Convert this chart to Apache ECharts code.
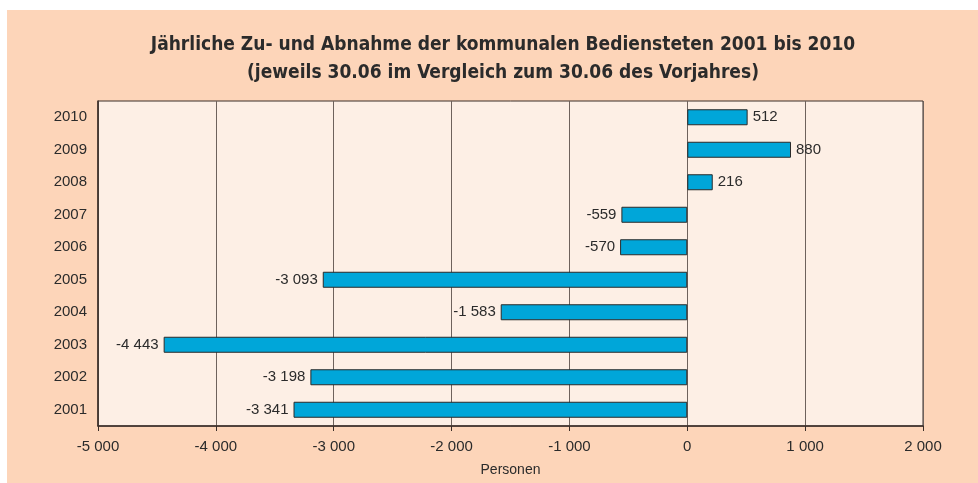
<!DOCTYPE html>
<html>
<head>
<meta charset="utf-8">
<script src="https://cdn.jsdelivr.net/npm/echarts@6/dist/echarts.min.js"></script>
<style>
	html, body { margin: 0; padding: 0; background: #ffffff; }
	#frame { position: absolute; left: 7px; top: 10px; width: 971px; height: 473px; background: #fdd5b9; }
	#chart { position: absolute; left: 0; top: 0; width: 978px; height: 483px; }
</style>
</head>
<body>
<div id="frame"></div>
<div id="chart"></div>
<script>
//	data
var years = ['2001', '2002', '2003', '2004', '2005', '2006', '2007', '2008', '2009', '2010'];
var change = [-3341, -3198, -4443, -1583, -3093, -570, -559, 216, 880, 512];
var xMin = -5000,
	xMax = 2000,
	xStep = 1000;

//	thousands with a space, as in the original
function fmt(v) {
	var s = Math.abs(v).toString().replace(/\B(?=(\d{3})+(?!\d))/g, ' ');
	return (v < 0 ? '-' : '') + s;
}

var barData = [];
for(var i=0; i<change.length; i++) {
	barData.push({
		value: change[i],
		label: { position: change[i] < 0 ? 'left' : 'right' }
	});
}

var myChart = echarts.init(document.getElementById('chart'));
var option = {
	backgroundColor: 'transparent',
	title: {
		text: 'Jährliche Zu- und Abnahme der kommunalen Bediensteten 2001 bis 2010\n(jeweils 30.06 im Vergleich zum 30.06 des Vorjahres)',
		left: 503,
		textAlign: 'center',
		top: 31,
		padding: 0,
		textStyle: {
			fontFamily: 'DejaVu Sans Condensed',
			fontWeight: 'bold',
			fontSize: 19,
			lineHeight: 28,
			color: '#2b2b2b'
		}
	},
	grid: {
		left: 98,
		right: 55,
		top: 101,
		bottom: 57,
		show: true,
		backgroundColor: '#fdefe5',
		borderColor: '#3a2e28',
		borderWidth: 1
	},
	xAxis: {
		type: 'value',
		min: xMin,
		max: xMax,
		interval: xStep,
		name: 'Personen',
		nameLocation: 'middle',
		nameGap: 37,
		nameTextStyle: { fontFamily: 'Liberation Sans', fontSize: 14, color: '#2b2b2b' },
		axisLine: { show: true, onZero: false, lineStyle: { color: '#3a2e28', width: 1.5 } },
		axisTick: { show: true, length: 5, lineStyle: { color: '#3a2e28' } },
		axisLabel: {
			fontFamily: 'Liberation Sans',
			fontSize: 15,
			color: '#2b2b2b',
			margin: 13,
			formatter: fmt
		},
		splitLine: { show: true, lineStyle: { color: '#6e625c', width: 1 } }
	},
	yAxis: {
		type: 'category',
		data: years,
		axisLine: { show: true, onZero: false, lineStyle: { color: '#3a2e28', width: 1.5 } },
		axisTick: { show: false },
		axisLabel: {
			fontFamily: 'Liberation Sans',
			fontSize: 15,
			color: '#2b2b2b',
			margin: 11
		},
		splitLine: { show: false }
	},
	series: [
		{
			type: 'bar',
			data: barData,
			barWidth: 16,
			itemStyle: {
				color: '#00a6d9',
				borderColor: '#2a2a2a',
				borderWidth: 1
			},
			label: {
				show: true,
				distance: 5,
				fontFamily: 'Liberation Sans',
				fontSize: 15,
				color: '#2b2b2b',
				formatter: function(p) { return fmt(p.value); }
			}
		}
	],
	animation: false
};
myChart.setOption(option);
</script>
</body>
</html>
